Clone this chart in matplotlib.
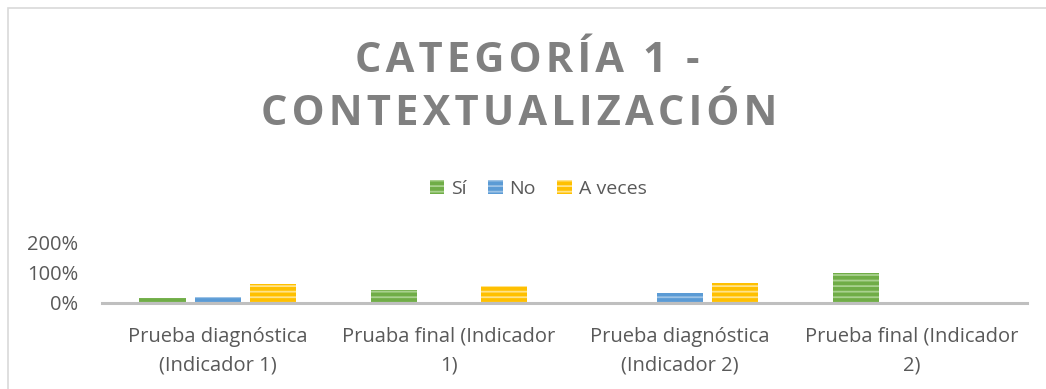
import matplotlib
matplotlib.use("Agg")
import matplotlib.pyplot as plt
from matplotlib.patches import Patch, Rectangle
from matplotlib.ticker import FuncFormatter, FixedLocator
import numpy as np

# Data
categories = [
    "Prueba diagnóstica\n(Indicador 1)",
    "Pruaba final (Indicador\n1)",
    "Prueba diagnóstica\n(Indicador 2)",
    "Prueba final (Indicador\n2)",
]
series_names = ["Sí", "No", "A veces"]
si_values = [0.17, 0.43, 0.0, 1.00]
no_values = [0.20, 0.0, 0.33, 0.0]
aveces_values = [0.63, 0.57, 0.67, 0.0]
y_ticks = [0.0, 1.0, 2.0]
title_lines = ["CATEGORÍA 1 -", "CONTEXTUALIZACIÓN"]

colors = ["#70AD47", "#5B9BD5", "#FFC000"]
stripe_colors = ["#A9D18E", "#9DC3E6", "#FFE38A"]

plt.rcParams["font.family"] = ["Open Sans", "DejaVu Sans"]
plt.rcParams["hatch.linewidth"] = 1.3

W, H = 1046, 389
fig = plt.figure(figsize=(W / 100, H / 100), dpi=100)

# chart frame
fig.patches.append(Rectangle((8 / W, -0.05), 1.2, 1 - 8 / H + 0.05,
                             transform=fig.transFigure, fill=False,
                             edgecolor="#D9D9D9", linewidth=1.2))

ax = fig.add_axes([102 / W, 1 - 303 / H, (1027 - 102) / W, (303 - 242) / H])

x = np.arange(len(categories))
bw = 0.2
step = 0.238
all_values = [si_values, no_values, aveces_values]
for i, (vals, c, sc) in enumerate(zip(all_values, colors, stripe_colors)):
    ax.bar(x + (i - 1) * step, vals, width=bw, color=c, edgecolor=sc,
           linewidth=0, hatch="---", zorder=2)

ax.set_xlim(-0.5, len(categories) - 0.5)
ax.set_ylim(0, 2)
ax.yaxis.set_major_locator(FixedLocator(y_ticks))
ax.yaxis.set_major_formatter(FuncFormatter(lambda v, p: f"{v * 100:.0f}%"))
ax.set_xticks(x)
ax.set_xticklabels(categories, linespacing=1.6)
ax.tick_params(axis="both", length=0, labelsize=14.5, colors="#595959")
ax.tick_params(axis="x", pad=17)
ax.tick_params(axis="y", pad=17)
for s in ["top", "right", "left"]:
    ax.spines[s].set_visible(False)
ax.spines["bottom"].set_color("#BFBFBF")
ax.spines["bottom"].set_linewidth(2.2)
ax.patch.set_alpha(0)

# Title, letter-spaced with hair spaces
tracked = ["\u200a".join(line) for line in title_lines]
fig.text(527 / W, 1 - 61 / H, tracked[0], ha="center", va="center",
         fontsize=30, fontweight="bold", color="#808080")
fig.text(519 / W, 1 - 115 / H, tracked[1], ha="center", va="center",
         fontsize=30, fontweight="bold", color="#808080")

# Legend
handles = [Patch(facecolor=c, edgecolor=sc, linewidth=0, hatch="---")
           for c, sc in zip(colors, stripe_colors)]
leg = fig.legend(handles, series_names, loc="center", bbox_to_anchor=(538 / W, 1 - 189 / H),
                 ncol=3, frameon=False, fontsize=14, handlelength=0.75, handleheight=0.75,
                 handletextpad=0.35, columnspacing=1.1)
for t in leg.get_texts():
    t.set_color("#595959")

fig.savefig("out.png", dpi=100)
